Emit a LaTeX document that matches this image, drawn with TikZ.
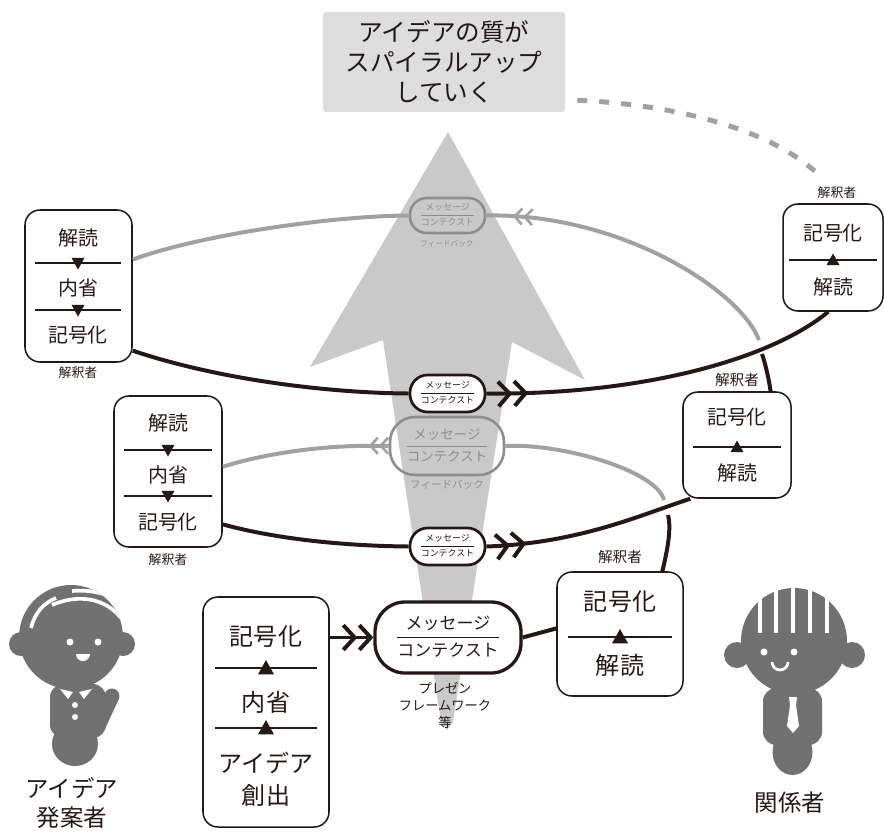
\documentclass[tikz,border=0pt]{standalone}
\usepackage{fontspec}
\setmainfont{Noto Sans CJK JP}
\usetikzlibrary{arrows.meta, decorations.markings}
\definecolor{inkBlack}{HTML}{231815}
\definecolor{backGray}{HTML}{A3A0A0}
\definecolor{fbGray}{HTML}{8F8C8C}
\definecolor{shaftGray}{HTML}{C9C9C9}
\definecolor{titleGray}{HTML}{DDDDDD}
\definecolor{personGray}{HTML}{727171}
\renewcommand\arraystretch{1.3}
\setlength\arrayrulewidth{0.7pt}
\tikzset{
  dblchev/.tip={Straight Barb[length=3.4mm,width=7.4mm] Straight Barb[length=3.4mm,width=7.4mm]},
  thinchev/.tip={Straight Barb[length=2.2mm,width=4.8mm,line width=2.2pt] Straight Barb[length=2.2mm,width=4.8mm,line width=2.2pt]},
}

% message over context, split by a rule
\newcommand\msgpair{\begin{tabular}{@{}c@{}}メッセージ\\\hline コンテクスト\end{tabular}}
% rule with a triangle on it: x, y, half width, triangle size
\newcommand\sepdown[4]{%
  \draw[sepline] (#1-#3,#2) -- (#1+#3,#2);
  \fill[inkBlack] (#1-#4,#2-0.8*#4) -- (#1+#4,#2-0.8*#4) -- (#1,#2+#4) -- cycle;}
\newcommand\sepup[4]{%
  \draw[sepline] (#1-#3,#2) -- (#1+#3,#2);
  \fill[inkBlack] (#1-#4,#2+0.8*#4) -- (#1+#4,#2+0.8*#4) -- (#1,#2-#4) -- cycle;}

\begin{document}
\begin{tikzpicture}[x=0.3mm, y=-0.3mm,
    every node/.style={inner sep=0pt, text=inkBlack},
    card/.style={draw=inkBlack, line width=1.3pt, fill=white, rounded corners=4.5mm},
    msg/.style={draw=inkBlack, fill=white, align=center},
    fb/.style={draw=fbGray, text=fbGray, line width=2.2pt, align=center},
    word/.style={font=\fontsize{17pt}{20pt}\selectfont},
    bigword/.style={font=\fontsize{20.5pt}{27pt}\selectfont, align=center},
    role/.style={font=\fontsize{11pt}{13pt}\selectfont},
    bigrole/.style={font=\fontsize{12.5pt}{14pt}\selectfont},
    tiny/.style={font=\fontsize{7.6pt}{9pt}\selectfont},
    who/.style={font=\fontsize{20pt}{25.5pt}\selectfont, align=center},
    sepline/.style={draw=inkBlack, line width=1pt},
    front/.style={draw=inkBlack, line width=3.4pt},
    back/.style={draw=backGray, line width=3.4pt},
    hair/.style={draw=white, line width=1.1mm},
    ahead/.style={postaction={decorate, decoration={markings,
        mark=at position #1 with {\arrow{dblchev}}}}},
    aback/.style={postaction={decorate, decoration={markings,
        mark=at position #1 with {\arrowreversed{thinchev}}}}},
    aleft/.style={postaction={decorate, decoration={markings,
        mark=at position #1 with {\arrow{thinchev}}}}},
  ]
  \useasboundingbox (0,0) rectangle (884,831);

  % rising arrow behind the loops
  \fill[shaftGray] (448,132) -- (585,380) -- (512,342) -- (453,722)
    -- (447,730) -- (441,722) -- (383,340) -- (310,367) -- cycle;

  \node[fill=titleGray, rounded corners=0.8mm, minimum width=72.6mm, minimum height=30mm,
        align=center, font=\fontsize{21pt}{25.5pt}\selectfont]
    (title) at (444,62) {アイデアの質が\\スパイラルアップ\\していく};

  % idea creation
  \node[card, minimum width=37.8mm, minimum height=69mm] (origin) at (266,712) {};
  \node[bigword] (o1) at (266,637) {記号化};
  \sepup{266}{668}{51}{8}
  \node[bigword] (o2) at (266,702) {内省};
  \sepup{266}{728}{51}{8}
  \node[bigword] (o3) at (266,779) {アイデア\\創出};

  % first reader
  \node[card, minimum width=37.8mm, minimum height=37.2mm] (recv0) at (620,634) {};
  \node[bigword] (r0a) at (620,602) {記号化};
  \sepup{620}{637}{52}{8}
  \node[bigword] (r0b) at (620,665) {解読};
  \node[bigrole] (r0lbl) at (620,557) {解釈者};

  % second round
  \node[card, minimum width=32.4mm, minimum height=45.3mm] (refl1) at (168,471.5) {};
  \node[word] (f1a) at (168,423) {解読};
  \sepdown{168}{450}{44}{6.5}
  \node[word] (f1b) at (168,475) {内省};
  \sepdown{168}{496}{44}{6.5}
  \node[word] (f1c) at (168,522) {記号化};
  \node[role] (f1lbl) at (168,560) {解釈者};

  \node[card, minimum width=32.4mm, minimum height=31.8mm] (recv1) at (737,445) {};
  \node[word] (r1a) at (737,417) {記号化};
  \sepup{737}{447}{44}{6.5}
  \node[word] (r1b) at (737,473) {解読};
  \node[bigrole] (r1lbl) at (737,380) {解釈者};

  % third round
  \node[card, minimum width=32.1mm, minimum height=45.6mm] (refl2) at (78.5,286) {};
  \node[word] (f2a) at (78,238) {解読};
  \sepdown{78}{263}{43}{6.5}
  \node[word] (f2b) at (78,288) {内省};
  \sepdown{78}{310}{43}{6.5}
  \node[word] (f2c) at (78,335) {記号化};
  \node[role] (f2lbl) at (78,373) {解釈者};

  \node[card, minimum width=30mm, minimum height=32.1mm] (recv2) at (833,257.5) {};
  \node[word] (r2a) at (833,233) {記号化};
  \sepup{833}{260}{44}{6.5}
  \node[word] (r2b) at (833,287) {解読};
  \node[role] (r2lbl) at (837,193) {解釈者};

  % messages and feedback
  \node[msg, line width=2.8pt, minimum width=43.8mm, minimum height=21.3mm, rounded corners=9mm,
        font=\fontsize{14.5pt}{17.4pt}\selectfont] (msg0) at (448,637.5) {\msgpair};
  \node[align=center, font=\fontsize{11.3pt}{14.5pt}\selectfont] (msg0lbl) at (445,705)
    {プレゼン\\フレームワーク\\等};
  \node[msg, line width=2.3pt, minimum width=22.5mm, minimum height=11.1mm, rounded corners=5.3mm,
        tiny] (msg1) at (447.5,546.5) {\msgpair};
  \node[msg, line width=2.3pt, minimum width=22.5mm, minimum height=11.1mm, rounded corners=5.3mm,
        tiny] (msg2) at (447.5,393.5) {\msgpair};
  \node[fb, minimum width=34.2mm, minimum height=17.4mm, rounded corners=7.5mm,
        font=\fontsize{11.5pt}{13.8pt}\selectfont] (fb1) at (447,446) {\msgpair};
  \node[text=fbGray, font=\fontsize{9pt}{11pt}\selectfont] (fb1lbl) at (447,485) {フィードバック};
  \node[fb, minimum width=22.5mm, minimum height=10.5mm, rounded corners=5mm,
        tiny] (fb2) at (447.5,215.5) {\msgpair};
  \node[text=fbGray, font=\fontsize{6.5pt}{8pt}\selectfont] (fb2lbl) at (447,244) {フィードバック};

  % loop joints hidden behind the front lines
  \coordinate (dip1) at (668,515);
  \coordinate (rise1) at (664,500);
  \coordinate (rise2) at (759,340);
  \coordinate (dip2) at (762,354);

  % back halves
  \draw[front] (recv0.56) .. controls (666,556) and (672,530) .. (dip1);
  \draw[back] (rise1) .. controls (656,470) and (560,443) .. (fb1.east);
  \draw[back, aleft=6mm] (fb1.west) .. controls (320,444) and (260,455) .. (refl1.5);
  \draw[back, aback=8mm] (fb2.east) .. controls (620,213) and (740,290) .. (rise2);
  \draw[front] (dip2) .. controls (766,366) and (769,380) .. (recv1.58);
  \draw[back] (fb2.west) .. controls (330,216) and (200,235) .. (refl2.26);

  % front halves
  \draw[front, -dblchev] (msg0.west -| origin.east) -- (msg0.west);
  \draw[front] (msg0.east) -- (recv0.175);
  \draw[front] (refl1.-44) .. controls (280,540) and (350,546) .. (msg1.west);
  \draw[front, ahead=12mm] (msg1.east) .. controls (580,543) and (640,515) .. (recv1.229);
  \draw[front] (refl2.-50) .. controls (220,380) and (330,393) .. (msg2.west);
  \draw[front, ahead=12.6mm] (msg2.east) .. controls (640,395) and (770,360) .. (recv2.265);

  \draw[backGray, line width=4.2pt, dash pattern=on 3mm off 3.6mm]
    ([xshift=3.6mm, yshift=3.6mm]title.south east) .. controls (680,105) and (770,130)
    .. ([yshift=4mm]r2lbl.north west);

  % idea owner, waving
  \fill[personGray] (21,644) circle (12) (123,644) circle (12);
  \fill[personGray] (71,637) circle (52);
  \begin{scope}
    \clip (71,637) circle (52);
    \draw[hair] (31,628) .. controls (35,612) and (44,603) .. (56,598);
    \draw[hair] (52,605) .. controls (80,593) and (106,599) .. (121,618);
    \draw[hair] (72,591) .. controls (96,589) and (113,596) .. (124,606);
  \end{scope}
  \fill[white] (70,642) circle (3.5) (98,642) circle (3.5);
  \fill[white] (76,654) arc[start angle=180, end angle=0, radius=7] -- cycle;
  \fill[personGray, rounded corners=4mm] (50,684) rectangle (106,738);
  \fill[personGray] (75,744) ellipse [x radius=23, y radius=22];
  \draw[personGray, line width=4.5mm, line cap=round] (99,724) -- (112,696);
  \fill[white] (60,689) -- (73,692) -- (68,699) -- cycle
               (79,692) -- (92,689) -- (84,699) -- cycle;
  \fill[white] (75,705) circle (3) (75,717) circle (3);
  \node[who] (ownerlbl) at (72,803) {アイデア\\発案者};

  % stakeholder
  \fill[personGray] (737,655) circle (13) (852,655) circle (13);
  \fill[personGray] (794,641) circle (53);
  \foreach \hx in {760,776,793,810,827}
    \fill[white] (\hx-2,580) rectangle (\hx+2,633);
  \fill[white] (764,652) circle (3.5) (794,652) circle (3.5);
  \draw[white, line width=0.8mm] (772,662) arc[start angle=180, end angle=0, radius=8];
  \fill[personGray, rounded corners=4mm] (763,688) rectangle (822,745);
  \fill[personGray] (792.5,752) ellipse [x radius=20, y radius=23];
  \fill[white] (789,697) -- (797,697) -- (796,705) -- (799,726) -- (793,733)
    -- (787,726) -- (790,705) -- cycle;
  \node[who] (kanlbl) at (790,803) {関係者};
\end{tikzpicture}
\end{document}
